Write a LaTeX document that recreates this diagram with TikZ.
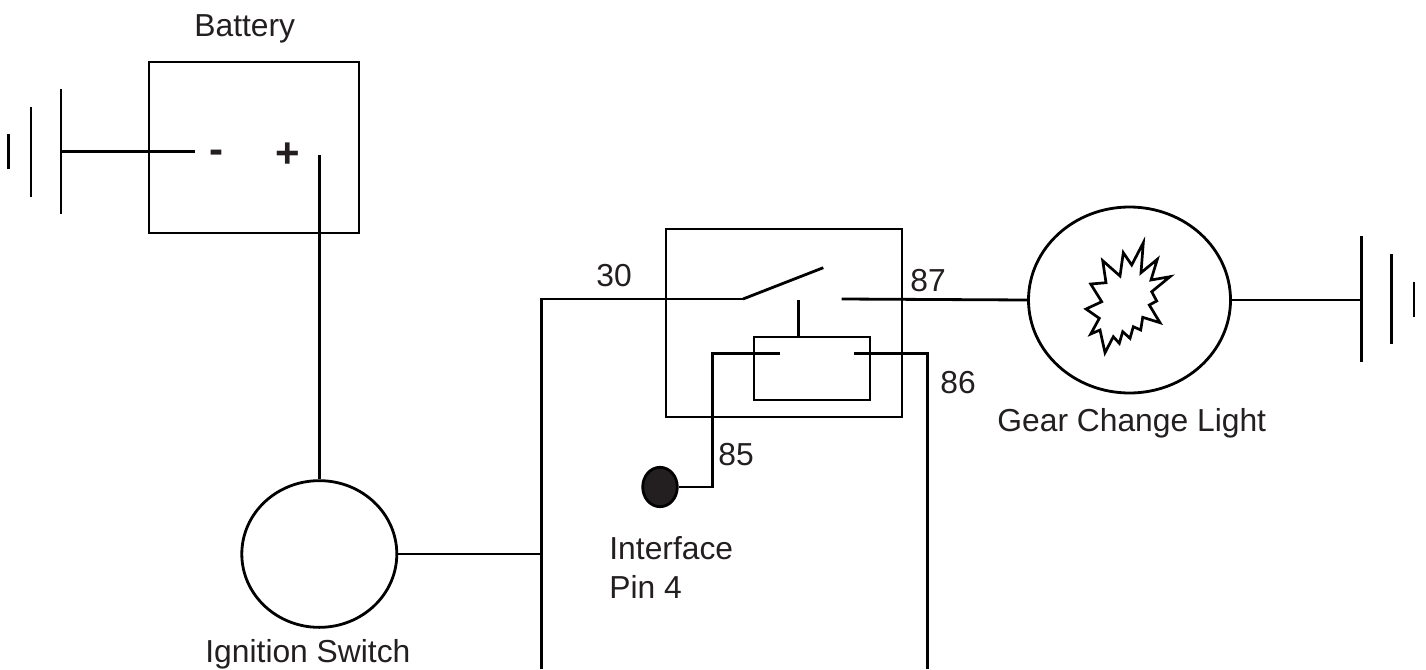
\documentclass[tikz,border=0pt]{standalone}
\usepackage{fontspec}
\setmainfont{Liberation Sans}
\usetikzlibrary{shapes.geometric}
\definecolor{txt}{HTML}{231F20}
\begin{document}
\begin{tikzpicture}[x=1pt,y=-1pt,line width=2.8pt,
  wire/.style={draw=black,line width=2.8pt},
  part/.style={draw=black,line width=2.8pt,inner sep=0pt,fill=white},
  label/.style={inner sep=0pt,text=txt,font=\fontsize{31.8}{39}\selectfont},
  sign/.style={inner sep=0pt,text=txt,font=\fontsize{42}{48}\selectfont\bfseries}]
\useasboundingbox (0,0) rectangle (1426,669);
\fill[white] (0,0) rectangle (1426,669);

% parts
\node[part,rectangle,minimum width=210pt,minimum height=171pt] (bat) at (254,147.5) {};
\node[part,ellipse,minimum width=155pt,minimum height=146.7pt] (ign) at (319.3,554) {};
\node[part,rectangle,minimum width=236pt,minimum height=188pt,fill=none] (relay) at (784,323) {};
\node[part,rectangle,minimum width=116pt,minimum height=63pt,fill=none] (coil) at (812,368.5) {};
\node[part,ellipse,minimum width=202pt,minimum height=186pt] (lamp) at (1129.5,300) {};
\node[part,ellipse,minimum width=34.6pt,minimum height=39.4pt,fill=txt] (pin) at (660,487) {};

% labels
\node[label,anchor=base west] (tbat) at (193,36.7) {Battery};
\node[label,anchor=base west] (tign) at (204,662) {Ignition Switch};
\node[label,anchor=base west] (tlamp) at (996,431) {Gear Change Light};
\node[label,anchor=north west,align=left] (tpin) at (608,535.5) {Interface\\Pin 4};
\node[label,anchor=base west] (t30) at (595,286.7) {30};
\node[label,anchor=base west] (t87) at (909,291) {87};
\node[label,anchor=base west] (t86) at (939,393) {86};
\node[label,anchor=base west] (t85) at (717,465) {85};
\node[sign,anchor=base] (tminus) at (216.5,163) {-};
\node[sign,anchor=base] (tplus) at (288,167) {+};

% coordinates
\coordinate (gL) at (61,151.7);
\coordinate (negT) at (195,151.7);
\coordinate (posT) at (319.3,155);
\coordinate (jIgn) at (541.7,554);
\coordinate (botL) at (541.7,669);
\coordinate (sw1) at (743,299);
\coordinate (sw2) at (823.3,267.7);
\coordinate (sw3) at (841.7,299);
\coordinate (stub) at (798.3,300);
\coordinate (c85) at (780,353.3);
\coordinate (k85) at (712.3,353.3);
\coordinate (c86) at (854.3,353.3);
\coordinate (k86) at (927.3,353.3);
\coordinate (botR) at (927.3,669);
\coordinate (gR) at (1361.3,300);

% left ground
\draw[wire] (8.3,134) -- (8.3,169);
\draw[wire] (31,107) -- (31,197);
\draw[wire] (gL |- 0,89) -- (gL |- 0,214);
% right ground
\draw[wire] (gR |- 0,236) -- (gR |- 0,362);
\draw[wire] (1391.7,254) -- (1391.7,344);
\draw[wire] (1414,282) -- (1414,317);

% wires
\draw[wire] (gL) -- (negT);
\draw[wire] (posT) -- (ign.north);
\draw[wire] (ign.east) -- (jIgn);
\draw[wire] (botL) |- (sw1);
\draw[wire] (sw1) -- (sw2);
\draw[wire] (sw3) -- (lamp.west);
\draw[wire] (stub) -- (stub |- coil.north);
\draw[wire] (c85) -- (k85) |- (pin.east);
\draw[wire] (c86) -- (k86) -- (botR);
\draw[wire] (lamp.east) -- (gR);

% starburst in lamp
\draw[line width=2.7pt,line join=miter] (1143.3,242.7) -- (1141,272.7) -- (1157.3,259.3) -- (1151,280) -- (1170,276.7) -- (1151.7,291.7) -- (1156.7,301) -- (1149.3,305) -- (1160,322.7) -- (1142.7,317.3) -- (1140.7,330) -- (1133.3,326.7) -- (1130,338.3) -- (1122.7,331.7) -- (1119.3,343.3) -- (1113.3,336.7) -- (1105,352.7) -- (1100,330) -- (1090.7,334) -- (1099.3,318.3) -- (1086,309) -- (1101.7,301.7) -- (1090.7,284) -- (1106,282.7) -- (1102.7,260.7) -- (1120,276) -- (1123.3,252.7) -- (1131.7,265) -- cycle;
\end{tikzpicture}
\end{document}
